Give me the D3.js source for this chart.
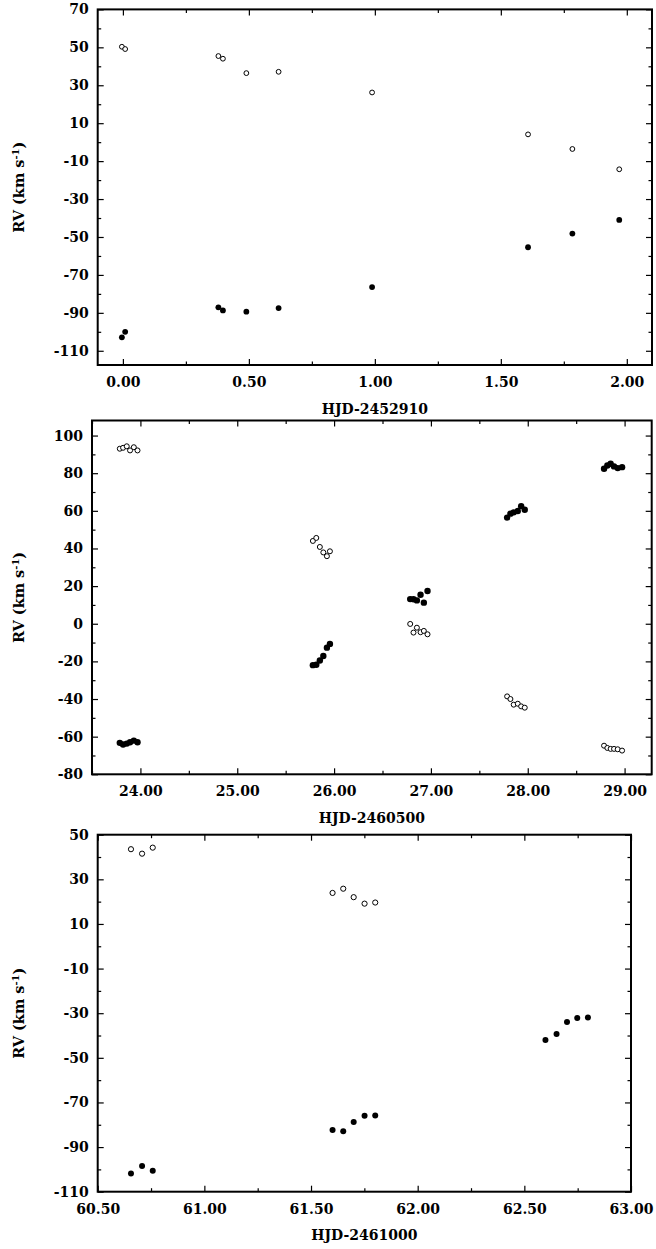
<!DOCTYPE html>
<html>
<head>
<meta charset="utf-8">
<script src="https://cdn.jsdelivr.net/npm/d3@7"></script>
<style>
  body { margin: 0; background: #fff; }
  text { font-family: "DejaVu Serif", "Liberation Serif", serif; font-weight: bold; fill: #000; }
</style>
</head>
<body>
<div id="chart"></div>
<script>
// panel 1: HJD-2452910
var t1 = [-0.004, 0.009, 0.379, 0.397, 0.490, 0.618, 0.989, 1.608, 1.784, 1.970];
var rv1Open = [50.3, 49.1, 45.4, 44.0, 36.4, 37.1, 26.2, 4.1, -3.6, -14.3];
var rv1Filled = [-102.9, -100.0, -87.1, -88.7, -89.4, -87.5, -76.4, -55.4, -48.2, -41.0];

// panel 2: HJD-2460500
var t2 = [23.787, 23.821, 23.859, 23.893, 23.932, 23.970,
          25.781, 25.816, 25.853, 25.889, 25.926, 25.957,
          26.786, 26.820, 26.855, 26.893, 26.927, 26.965,
          27.787, 27.821, 27.855, 27.897, 27.932, 27.969,
          28.788, 28.822, 28.856, 28.891, 28.929, 28.974];
var rv2Open = [93.0, 93.5, 94.3, 92.1, 93.8, 92.1,
               44.0, 45.6, 40.8, 37.9, 35.9, 38.5,
               -0.1, -4.7, -2.1, -4.5, -3.8, -5.6,
               -38.6, -40.0, -43.0, -42.5, -43.9, -44.6,
               -64.8, -66.0, -66.5, -66.5, -66.7, -67.4];
var rv2Filled = [-63.3, -64.2, -63.7, -63.0, -62.1, -63.0,
                 -22.0, -21.8, -19.5, -17.1, -12.7, -10.7,
                 13.1, 13.0, 12.4, 15.4, 11.2, 17.4,
                 56.4, 58.5, 59.2, 59.9, 62.5, 60.6,
                 82.4, 84.1, 85.0, 83.6, 82.7, 83.2];

// panel 3: HJD-2461000
var t3 = [60.656, 60.708, 60.758,
          61.601, 61.651, 61.700, 61.751, 61.801,
          62.599, 62.651, 62.700, 62.748, 62.798];
var rv3Open = [43.5, 41.5, 44.2,
               23.9, 25.8, 22.0, 19.1, 19.6,
               null, null, null, null, null];
var rv3Filled = [-101.8, -98.5, -100.6,
                 -82.4, -82.9, -78.8, -76.0, -75.8,
                 -42.0, -39.3, -33.9, -32.1, -31.9];

var xTitles = ["HJD-2452910", "HJD-2460500", "HJD-2461000"];

var width = 656, height = 1249;
var majorLen = 6, minorLen = 3.5;

var svg = d3.select("#chart").append("svg")
  .attr("width", width)
  .attr("height", height)
  .attr("viewBox", "0 0 " + width + " " + height);

var panels = [
  { t: t1, open: rv1Open, filled: rv1Filled, title: xTitles[0],
    box: [97.7, 9.4, 652, 365], xDomain: [-0.1, 2.1], yDomain: [-117.5, 70],
    xMajor: d3.range(0, 2.01, 0.5), xMinor: d3.range(0, 2.01, 0.25),
    yMajor: d3.range(-110, 71, 20), yMinor: d3.range(-110, 71, 10),
    rOpen: 2.4, rFilled: 2.9 },
  { t: t2, open: rv2Open, filled: rv2Filled, title: xTitles[1],
    box: [92, 420.5, 651.7, 774.3], xDomain: [23.5, 29.28], yDomain: [-80, 108],
    xMajor: d3.range(24, 29.01, 1), xMinor: d3.range(23.5, 29.01, 0.5),
    yMajor: d3.range(-80, 101, 20), yMinor: d3.range(-80, 101, 10),
    rOpen: 2.5, rFilled: 3.2 },
  { t: t3, open: rv3Open, filled: rv3Filled, title: xTitles[2],
    box: [97.7, 834.7, 631, 1191.7], xDomain: [60.5, 63], yDomain: [-110, 50],
    xMajor: d3.range(60.5, 63.01, 0.5), xMinor: d3.range(60.5, 63.01, 0.25),
    yMajor: d3.range(-110, 51, 20), yMinor: d3.range(-110, 51, 10),
    rOpen: 2.6, rFilled: 3.0 }
];

panels.forEach(function(p) {
  var x0 = p.box[0], y0 = p.box[1], x1 = p.box[2], y1 = p.box[3];
  var x = d3.scaleLinear().domain(p.xDomain).range([x0, x1]);
  var y = d3.scaleLinear().domain(p.yDomain).range([y1, y0]);
  var g = svg.append("g");

  function drawAxis(axis, tx, ty, labels) {
    var a = g.append("g")
      .attr("transform", "translate(" + tx + "," + ty + ")")
      .call(axis);
    a.select(".domain").remove();
    a.selectAll("line").attr("stroke", "#000").attr("stroke-width", 1.2);
    if (!labels) a.selectAll("text").remove();
    else a.selectAll("text")
      .style("font-family", '"DejaVu Serif", serif')
      .style("font-weight", "bold")
      .style("font-size", "14px")
      .attr("fill", "#000");
    return a;
  }

  var xMinorOnly = p.xMinor.filter(v => !p.xMajor.some(m => Math.abs(m - v) < 1e-9));
  var yMinorOnly = p.yMinor.filter(v => !p.yMajor.some(m => Math.abs(m - v) < 1e-9));
  var fx = d3.format(".2f");
  var fy = d => String(d);

  // major ticks with labels, bottom & left
  drawAxis(d3.axisBottom(x).tickValues(p.xMajor).tickFormat(fx)
    .tickSizeInner(-majorLen).tickSizeOuter(0).tickPadding(12), 0, y1, true);
  drawAxis(d3.axisLeft(y).tickValues(p.yMajor).tickFormat(fy)
    .tickSizeInner(-majorLen).tickSizeOuter(0).tickPadding(9), x0, 0, true);
  // mirrored major ticks
  drawAxis(d3.axisTop(x).tickValues(p.xMajor).tickSizeInner(-majorLen).tickSizeOuter(0), 0, y0, false);
  drawAxis(d3.axisRight(y).tickValues(p.yMajor).tickSizeInner(-majorLen).tickSizeOuter(0), x1, 0, false);
  // minor ticks
  drawAxis(d3.axisBottom(x).tickValues(xMinorOnly).tickSizeInner(-minorLen).tickSizeOuter(0), 0, y1, false);
  drawAxis(d3.axisTop(x).tickValues(xMinorOnly).tickSizeInner(-minorLen).tickSizeOuter(0), 0, y0, false);
  drawAxis(d3.axisLeft(y).tickValues(yMinorOnly).tickSizeInner(-minorLen).tickSizeOuter(0), x0, 0, false);
  drawAxis(d3.axisRight(y).tickValues(yMinorOnly).tickSizeInner(-minorLen).tickSizeOuter(0), x1, 0, false);

  // frame
  g.append("rect")
    .attr("x", x0).attr("y", y0)
    .attr("width", x1 - x0).attr("height", y1 - y0)
    .attr("fill", "none")
    .attr("stroke", "#000")
    .attr("stroke-width", 2);

  // points
  var openPts = p.t.map((t, i) => [t, p.open[i]]).filter(d => d[1] != null);
  var filledPts = p.t.map((t, i) => [t, p.filled[i]]).filter(d => d[1] != null);

  g.selectAll(".open").data(openPts).enter()
    .append("circle")
    .attr("class", "open")
    .attr("cx", d => x(d[0]))
    .attr("cy", d => y(d[1]))
    .attr("r", p.rOpen)
    .attr("fill", "#fff")
    .attr("stroke", "#000")
    .attr("stroke-width", 1);

  g.selectAll(".filled").data(filledPts).enter()
    .append("circle")
    .attr("class", "filled")
    .attr("cx", d => x(d[0]))
    .attr("cy", d => y(d[1]))
    .attr("r", p.rFilled)
    .attr("fill", "#000");

  // axis titles
  g.append("text")
    .attr("x", (x0 + x1) / 2)
    .attr("y", y1 + 48.5)
    .attr("text-anchor", "middle")
    .style("font-size", "14px")
    .text(p.title);

  var yl = g.append("text")
    .attr("transform", "translate(24," + ((y0 + y1) / 2) + ") rotate(-90)")
    .attr("text-anchor", "middle")
    .style("font-size", "14.5px");
  yl.append("tspan").text("RV (km s");
  yl.append("tspan").attr("dy", -5).style("font-size", "10px").text("-1");
  yl.append("tspan").attr("dy", 5).text(")");
});
</script>
</body>
</html>
